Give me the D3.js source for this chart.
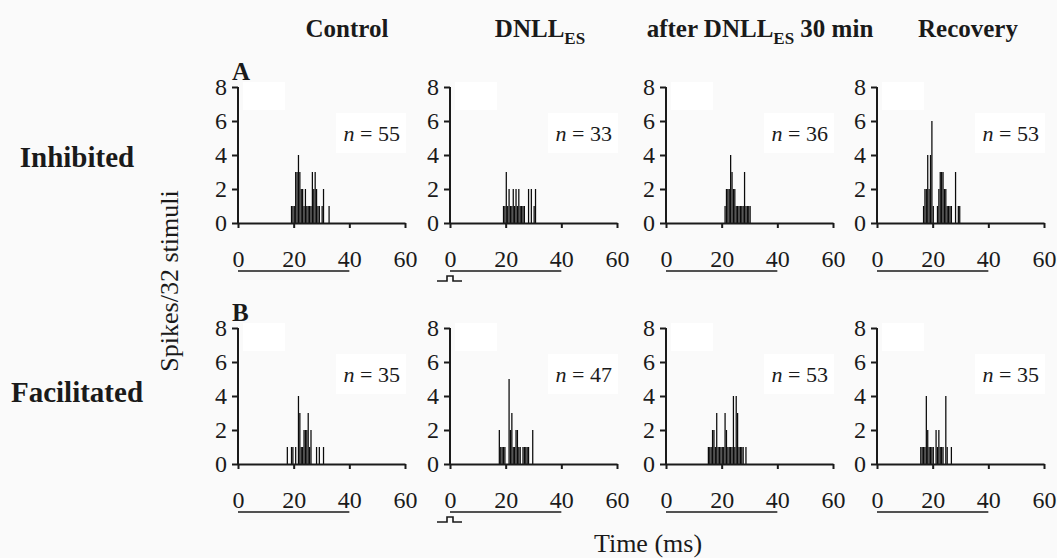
<!DOCTYPE html>
<html><head><meta charset="utf-8">
<script src="https://cdn.jsdelivr.net/npm/d3@7"></script>
<style>
html,body{margin:0;padding:0;background:#fafafa;}
svg{display:block;font-family:"Liberation Serif","Times New Roman",serif;}
</style></head>
<body>
<svg id="chart" width="1057" height="558"></svg>
<script>
// ---------- data ----------
const conditions = ["Control", "DNLL", "after DNLL 30 min", "Recovery"];
const rowLabels = ["Inhibited", "Facilitated"];
const panelLetters = ["A", "B"];
const xTicks = [0, 20, 40, 60];
const yTicks = [0, 2, 4, 6, 8];
const binWidth = 0.5; // ms
const nInhibited = [55, 33, 36, 53];
const nFacilitated = [35, 47, 53, 35];

// [bin start (ms), spike count]
const inhControl = [[19,1],[19.5,1],[20,1],[20.5,3],[21,3],[21.5,4],[22,3],[22.5,2],[23,2],[23.5,1],[24,2],[24.5,1],[25,1],[25.5,1],[26,1],[26.5,3],[27,2],[27.5,3],[28,2],[28.5,1],[29,1],[30,1],[30.5,2],[32.5,1]];
const inhDNLL = [[19,1],[19.5,1],[20,3],[20.5,1],[21,2],[21.5,1],[22,1],[22.5,2],[23,1],[23.5,2],[24,1],[24.5,2],[25,1],[25.5,1],[26,1],[26.5,1],[28,2],[29,2],[30,1],[30.5,2]];
const inhAfter = [[21,1],[21.5,2],[22,2],[22.5,2],[23,4],[23.5,3],[24,2],[24.5,2],[25,1],[25.5,1],[26,1],[26.5,1],[27,1],[27.5,1],[28,3],[28.5,1],[29,1],[29.5,1],[30,1]];
const inhRecovery = [[16.5,1],[17,2],[17.5,2],[18,4],[18.5,2],[19,4],[19.5,6],[20,1],[21.5,1],[22,2],[22.5,3],[23,3],[23.5,3],[24,2],[24.5,2],[25,1],[25.5,1],[26,1],[26.5,1],[28,3],[29,1],[29.5,1]];
const facControl = [[17.5,1],[19,1],[19.5,1],[20.5,1],[21.5,4],[22,3],[22.5,1],[23,1],[23.5,2],[24,2],[24.5,2],[25,3],[25.5,1],[26,2],[28,1],[29,1],[30.5,1]];
const facDNLL = [[17.5,2],[18,1],[18.5,1],[19,1],[19.5,1],[21,5],[21.5,2],[22,3],[22.5,1],[23,1],[23.5,2],[24,2],[24.5,1],[25,1],[26,1],[26.5,1],[27,1],[27.5,1],[28,1],[29.5,2]];
const facAfter = [[15,1],[15.5,1],[16,1],[16.5,2],[17,2],[17.5,1],[18,3],[18.5,1],[19,1],[19.5,1],[20,1],[20.5,1],[21,3],[21.5,2],[22,1],[22.5,1],[23,1],[23.5,1],[24,4],[24.5,1],[25,4],[25.5,3],[26,1],[26.5,1],[27,1],[27.5,1],[28.5,1]];
const facRecovery = [[15.5,1],[16,1],[16.5,1],[17,1],[17.5,4],[18,2],[18.5,1],[19,1],[19.5,1],[20,1],[21,2],[21.5,1],[22,2],[22.5,1],[23,1],[23.5,1],[24.5,4],[25,1],[26.5,1]];

const histograms = [
  [inhControl, inhDNLL, inhAfter, inhRecovery],
  [facControl, facDNLL, facAfter, facRecovery]
];
const nValues = [nInhibited, nFacilitated];

// ---------- layout ----------
const colX = [238, 450, 666, 877];
const rowY = [223, 464];
const plotW = 167, plotH = 136;
const ink = "#1a1a1a";

const svg = d3.select("#chart");

// column headers
const headerY = 37;
const headerX = [347, 540, 760, 968];
conditions.forEach((c, i) => {
  const t = svg.append("text").attr("x", headerX[i]).attr("y", headerY)
    .attr("text-anchor", "middle").attr("font-weight", "bold")
    .attr("font-size", 25).attr("fill", ink);
  if (c.indexOf("DNLL") >= 0) {
    const parts = c.split("DNLL");
    if (parts[0]) t.append("tspan").text(parts[0]);
    t.append("tspan").text("DNLL");
    t.append("tspan").attr("font-size", 17).attr("dy", 7).text("ES");
    if (parts[1]) t.append("tspan").attr("dy", -7).text(parts[1]);
  } else t.text(c);
});

// row labels
const rowLabelX = [77, 77];
const rowLabelY = [167, 402];
rowLabels.forEach((r, i) => {
  svg.append("text").attr("x", rowLabelX[i]).attr("y", rowLabelY[i])
    .attr("text-anchor", "middle").attr("font-weight", "bold")
    .attr("font-size", 29).attr("fill", ink).text(r);
});

rowY.forEach((y0, ri) => {
  // panel letter
  svg.append("text").attr("x", colX[0] - 6).attr("y", y0 - 143)
    .attr("font-weight", "bold").attr("font-size", 25).attr("fill", ink)
    .text(panelLetters[ri]);

  colX.forEach((x0, ci) => {
    const x = d3.scaleLinear().domain([0, 60]).range([x0, x0 + plotW]);
    const y = d3.scaleLinear().domain([0, 8]).range([y0, y0 - plotH]);
    const g = svg.append("g");

    // white label boxes
    g.append("rect").attr("x", x0 + 5).attr("y", y0 - 141).attr("width", 42).attr("height", 28).attr("fill", "#fff");
    g.append("rect").attr("x", x0 + 98).attr("y", y0 - 110).attr("width", 70).attr("height", 40).attr("fill", "#fff");

    // bars
    g.selectAll("rect.bar").data(histograms[ri][ci]).join("rect")
      .attr("class", "bar")
      .attr("x", d => x(d[0]))
      .attr("width", d => (x(d[0] + binWidth) - x(d[0])) * 0.9)
      .attr("y", d => y(d[1]))
      .attr("height", d => y(0) - y(d[1]))
      .attr("fill", "#0a0a0a");

    // axes
    const ay = g.append("g").attr("transform", `translate(${x0},0)`)
      .call(d3.axisLeft(y).tickValues(yTicks).tickSize(5).tickPadding(6).tickSizeOuter(0));
    const ax = g.append("g").attr("transform", `translate(0,${y0})`)
      .call(d3.axisBottom(x).tickValues(xTicks).tickSize(5).tickPadding(22).tickSizeOuter(0));
    [ax, ay].forEach(a => {
      a.select(".domain").attr("stroke", ink).attr("stroke-width", 2);
      a.selectAll(".tick line").attr("stroke", ink).attr("stroke-width", 2);
      a.selectAll(".tick text").attr("fill", ink).attr("font-size", 24)
        .attr("font-family", "'Liberation Serif','Times New Roman',serif");
    });
    ay.select(".domain").attr("d", `M0,${y(0)}V${y(8)}`);
    ay.selectAll(".tick line").attr("x2", -6);

    // stimulus duration line
    g.append("line").attr("x1", x(0)).attr("x2", x(40))
      .attr("y1", y0 + 48).attr("y2", y0 + 48)
      .attr("stroke", ink).attr("stroke-width", 1.6);

    // stimulus pulse marker (DNLL column)
    if (ci === 1) {
      g.append("path")
        .attr("d", `M${x0 - 13},${y0 + 58}H${x0 - 3}V${y0 + 53}H${x0 + 3}V${y0 + 58}H${x0 + 12}`)
        .attr("fill", "none").attr("stroke", ink).attr("stroke-width", 1.6);
    }

    // n label
    const nt = g.append("text").attr("x", x0 + 162).attr("y", y0 - 82)
      .attr("text-anchor", "end").attr("font-size", 22).attr("fill", ink);
    nt.append("tspan").attr("font-style", "italic").text("n");
    nt.append("tspan").text(" = " + nValues[ri][ci]);
  });
});

// axis titles
svg.append("text").attr("transform", "translate(178,281) rotate(-90)")
  .attr("text-anchor", "middle").attr("font-size", 26).attr("fill", ink)
  .text("Spikes/32 stimuli");
svg.append("text").attr("x", 648).attr("y", 552)
  .attr("text-anchor", "middle").attr("font-size", 26).attr("fill", ink)
  .text("Time (ms)");
</script>
</body></html>
